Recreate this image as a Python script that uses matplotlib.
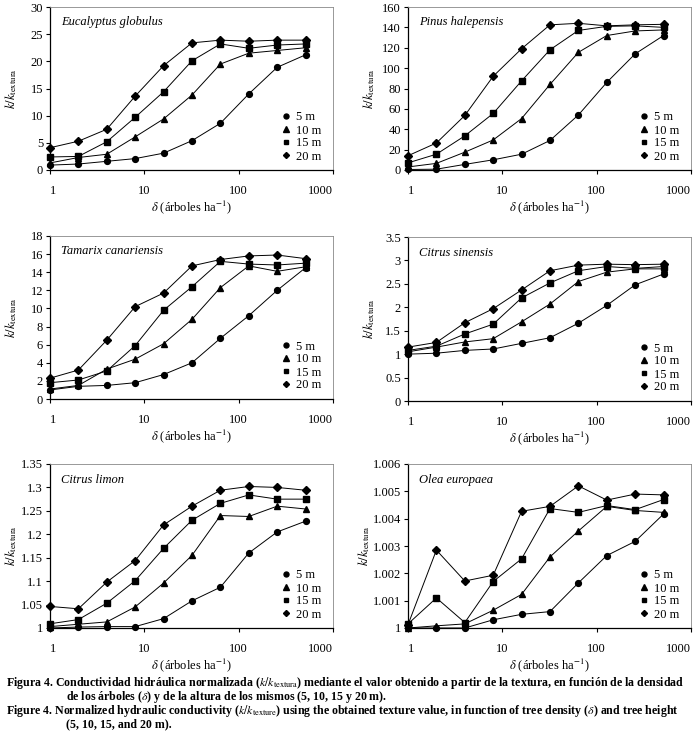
import matplotlib
matplotlib.use("Agg")
import matplotlib.pyplot as plt
from matplotlib.lines import Line2D
from matplotlib.ticker import NullLocator

plt.rcParams["font.family"] = ["Liberation Serif", "DejaVu Serif"]
plt.rcParams["mathtext.fontset"] = "stix"

# tree density (trees per ha)
density = [1, 2, 4, 8, 16, 32, 64, 128, 256, 512]
heights = ["5 m", "10 m", "15 m", "20 m"]

eucalyptus = [
    [0.9, 1.1, 1.6, 2.1, 3.1, 5.4, 8.6, 14.0, 18.9, 21.2],
    [1.3, 2.3, 2.9, 6.1, 9.4, 13.8, 19.5, 21.5, 22.0, 22.5],
    [2.4, 2.5, 5.2, 9.7, 14.4, 20.1, 23.2, 22.4, 23.0, 23.2],
    [4.1, 5.3, 7.5, 13.6, 19.2, 23.4, 23.9, 23.7, 23.9, 23.9],
]
pinus = [
    [0.5, 0.8, 5.5, 10.0, 15.5, 29.0, 54.0, 86.0, 114.0, 132.0],
    [3.0, 6.5, 17.5, 29.5, 50.5, 84.0, 115.5, 132.0, 136.5, 137.5],
    [7.0, 15.5, 33.5, 55.5, 87.5, 118.0, 137.0, 141.0, 141.5, 140.0],
    [14.0, 26.5, 53.5, 92.0, 119.0, 142.5, 144.0, 141.5, 142.5, 143.0],
]
tamarix = [
    [1.0, 1.4, 1.5, 1.8, 2.7, 4.0, 6.7, 9.2, 12.0, 14.5],
    [1.1, 1.5, 3.3, 4.4, 6.1, 8.8, 12.3, 14.7, 14.1, 14.6],
    [1.8, 2.1, 3.1, 5.9, 9.8, 12.4, 15.2, 14.9, 14.8, 15.0],
    [2.3, 3.2, 6.5, 10.2, 11.7, 14.7, 15.4, 15.8, 15.9, 15.5],
]
sinensis = [
    [1.00, 1.02, 1.08, 1.11, 1.23, 1.35, 1.66, 2.04, 2.48, 2.71],
    [1.05, 1.15, 1.26, 1.33, 1.69, 2.07, 2.55, 2.75, 2.82, 2.82],
    [1.08, 1.17, 1.43, 1.64, 2.20, 2.52, 2.78, 2.87, 2.83, 2.87],
    [1.15, 1.25, 1.67, 1.97, 2.37, 2.78, 2.90, 2.92, 2.91, 2.92],
]
limon = [
    [1.000, 1.002, 1.003, 1.003, 1.020, 1.058, 1.087, 1.160, 1.205, 1.228],
    [1.003, 1.008, 1.013, 1.045, 1.096, 1.155, 1.240, 1.238, 1.260, 1.254],
    [1.009, 1.018, 1.053, 1.101, 1.170, 1.230, 1.266, 1.284, 1.275, 1.275],
    [1.046, 1.041, 1.098, 1.144, 1.220, 1.260, 1.294, 1.302, 1.300, 1.294],
]
olea = [
    [1.0, 1.0, 1.0, 1.0003, 1.0005, 1.0006, 1.00165, 1.00265, 1.00317, 1.00417],
    [1.0, 1.00008, 1.00015, 1.00065, 1.00123, 1.0026, 1.00355, 1.00445, 1.0043, 1.00423],
    [1.00015, 1.0011, 1.0002, 1.0017, 1.00253, 1.00437, 1.00423, 1.00448, 1.00433, 1.0047],
    [1.00012, 1.00285, 1.00172, 1.00193, 1.00427, 1.00445, 1.0052, 1.00468, 1.0049, 1.00487],
]

panels = [
    ("Eucalyptus globulus", eucalyptus, (0, 30), [0, 5, 10, 15, 20, 25, 30]),
    ("Pinus halepensis", pinus, (0, 160), list(range(0, 161, 20))),
    ("Tamarix canariensis", tamarix, (0, 18), list(range(0, 19, 2))),
    ("Citrus sinensis", sinensis, (0, 3.5), [0, 0.5, 1, 1.5, 2, 2.5, 3, 3.5]),
    ("Citrus limon", limon, (1, 1.35), [1, 1.05, 1.1, 1.15, 1.2, 1.25, 1.3, 1.35]),
    ("Olea europaea", olea, (1, 1.006), [1, 1.001, 1.002, 1.003, 1.004, 1.005, 1.006]),
]

markers = ["o", "^", "s", "D"]
msizes = [4.2, 4.6, 4.0, 3.6]

W, H = 698, 734
# axes boxes in pixels: left, top, right, bottom
boxes = [
    (50, 7, 333, 170), (408, 7, 691, 170),
    (50, 236, 333, 399), (408, 237, 691, 401),
    (50, 464, 333, 628), (408, 464, 691, 628),
]
ylabel_x = [-0.108, -0.108, -0.108, -0.108, -0.108, -0.128]

fig = plt.figure(figsize=(W / 100, H / 100), dpi=100)

for (name, series, ylim, yticks), (l, t, r, b), lx in zip(panels, boxes, ylabel_x):
    ax = fig.add_axes([l / W, 1 - b / H, (r - l) / W, (b - t) / H])
    for vals, m, ms in zip(series, markers, msizes):
        ax.plot(density, vals, color="black", lw=0.7, marker=m, ms=ms,
                clip_on=False, zorder=3)
    ax.set_xscale("log")
    ax.set_xlim(1, 1000)
    ax.set_ylim(*ylim)
    ax.set_xticks([1, 10, 100, 1000])
    ax.set_xticklabels(["1", "10", "100", "1000"])
    ax.get_xticklabels()[-1].set_ha("right")
    ax.get_xticklabels()[0].set_ha("left")
    ax.xaxis.set_minor_locator(NullLocator())
    ax.set_yticks(yticks)
    ax.set_yticklabels([f"{v:g}" for v in yticks])
    ax.tick_params(labelsize=9, length=3, width=0.8, direction="out", pad=2)
    ax.tick_params(axis="x", pad=8)
    for s in ("left", "bottom"):
        ax.spines[s].set_linewidth(0.9)
    for s in ("top", "right"):
        ax.spines[s].set_color("#888888")
        ax.spines[s].set_linewidth(0.6)
    ax.text(0.04, 0.905, name, transform=ax.transAxes, style="italic",
            fontsize=9, va="center")
    ax.set_ylabel(r"$k/k_{\mathrm{textura}}$", fontsize=9)
    ax.yaxis.set_label_coords(lx, 0.5)
    ax.set_xlabel(r"$\delta$ (árboles ha$^{-1}$)", fontsize=9, labelpad=1)
    handles = [Line2D([], [], color="black", marker=m, ms=ms * 0.85, ls="none")
               for m, ms in zip(markers, msizes)]
    ax.legend(handles, heights, loc="lower right", frameon=False, fontsize=9,
              handlelength=0.6, handletextpad=0.5, labelspacing=0.08,
              borderaxespad=0.2, bbox_to_anchor=(0.985, 0.0))

cap_fs = 8.6
lines = [
    (6, 683, r"Figura 4. Conductividad hidráulica normalizada ($k/k_{\mathrm{textura}}$) mediante el valor obtenido a partir de la textura, en función de la densidad"),
    (66, 697, r"de los árboles ($\delta$) y de la altura de los mismos (5, 10, 15 y 20 m)."),
    (6, 711, r"Figure 4. Normalized hydraulic conductivity ($k/k_{\mathrm{texture}}$) using the obtained texture value, in function of tree density ($\delta$) and tree height"),
    (66, 724, r"(5, 10, 15, and 20 m)."),
]
for x, y, s in lines:
    fig.text(x / W, 1 - y / H, s, fontsize=cap_fs, fontweight="bold",
             va="center", ha="left")

fig.savefig("out.png", dpi=100)
